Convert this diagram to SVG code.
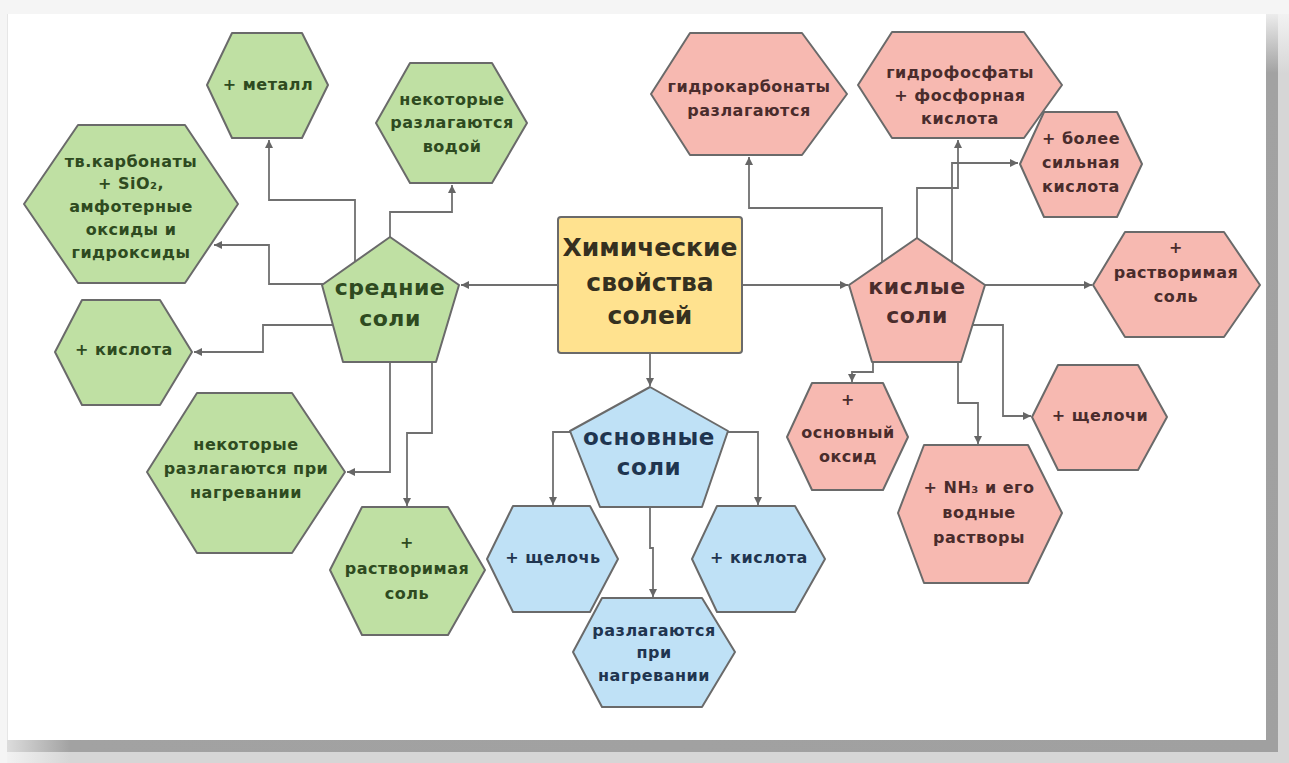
<svg xmlns="http://www.w3.org/2000/svg" width="1289" height="763" viewBox="0 0 1289 763">
<defs>
<linearGradient id="rs1" x1="0" y1="0" x2="0" y2="1"><stop offset="0" stop-color="#ececec"/><stop offset="0.08" stop-color="#a2a2a2"/><stop offset="1" stop-color="#a0a0a0"/></linearGradient>
<linearGradient id="rs2" x1="0" y1="0" x2="0" y2="1"><stop offset="0" stop-color="#f2f2f2"/><stop offset="0.08" stop-color="#d6d6d6"/><stop offset="1" stop-color="#d6d6d6"/></linearGradient>
<linearGradient id="bs1" x1="0" y1="0" x2="1" y2="0"><stop offset="0" stop-color="#dcdcdc"/><stop offset="0.05" stop-color="#a2a2a2"/><stop offset="1" stop-color="#a0a0a0"/></linearGradient>
<linearGradient id="bs2" x1="0" y1="0" x2="1" y2="0"><stop offset="0" stop-color="#f2f2f2"/><stop offset="0.05" stop-color="#d6d6d6"/><stop offset="1" stop-color="#d6d6d6"/></linearGradient>
<marker id="ah" viewBox="0 0 10 10" refX="10" refY="5" markerWidth="9" markerHeight="8" markerUnits="userSpaceOnUse" orient="auto"><path d="M0,0 L10,5 L0,10 Z" fill="#666"/></marker>
</defs>
<style>
.g{fill:#bfe0a3;stroke:#6a6a6a;stroke-width:2;stroke-linejoin:round}
.r{fill:#f7b9b1;stroke:#6a6a6a;stroke-width:2;stroke-linejoin:round}
.b{fill:#bfe1f6;stroke:#6a6a6a;stroke-width:2;stroke-linejoin:round}
.y{fill:#ffe28f;stroke:#6a6a6a;stroke-width:2}
text{font-family:"DejaVu Sans",Verdana,sans-serif;font-weight:bold;text-anchor:middle}
.tg{fill:#2e4a20;font-size:16px;letter-spacing:0.5px}
.tr{fill:#4a2c2c;font-size:16px;letter-spacing:0.5px}
.tb{fill:#1f3550;font-size:16px;letter-spacing:0.5px}
.big{font-size:22px;letter-spacing:0.5px}
.title{fill:#353020;font-size:25px}
.c{fill:none;stroke:#707070;stroke-width:1.8;marker-end:url(#ah)}
</style>
<rect x="0" y="0" width="1289" height="763" fill="#f5f5f5"/>
<rect x="1266" y="14" width="12" height="738" fill="url(#rs1)"/>
<rect x="1278" y="14" width="11" height="749" fill="url(#rs2)"/>
<rect x="7" y="740" width="1271" height="12" fill="url(#bs1)"/>
<rect x="7" y="752" width="1271" height="11" fill="url(#bs2)"/>
<rect x="7" y="14" width="1259" height="726" fill="#ffffff"/>
<line x1="7.5" y1="14" x2="7.5" y2="740" stroke="#e6e6e6" stroke-width="1"/>

<g id="connectors">
<path class="c" d="M558,285 H461"/>
<path class="c" d="M742,285 H848"/>
<path class="c" d="M650,353 V386"/>
<path class="c" d="M355,262 V200 H269 V140"/>
<path class="c" d="M324,284 H269 V245 H214"/>
<path class="c" d="M390,237 V212 H452 V185"/>
<path class="c" d="M333,325 H263 V352 H194"/>
<path class="c" d="M390,362 V472 H347"/>
<path class="c" d="M432,362 V433 H407 V506"/>
<path class="c" d="M570,432 H553 V505"/>
<path class="c" d="M728,432 H758 V505"/>
<path class="c" d="M650,507 V548 H653 V597"/>
<path class="c" d="M882,262 V208 H749 V157"/>
<path class="c" d="M917,238 V188 H958 V140"/>
<path class="c" d="M952,262 V163 H1018"/>
<path class="c" d="M985,285 H1092"/>
<path class="c" d="M973,325 H1003 V416 H1031"/>
<path class="c" d="M958,362 V403 H978 V444"/>
<path class="c" d="M873,362 V372 H852 V382"/>
</g>

<g id="center">
<rect class="y" x="558" y="217" width="184" height="136" rx="3"/>
<text class="title" x="650" y="256">Химические</text>
<text class="title" x="650" y="291">свойства</text>
<text class="title" x="650" y="324">солей</text>
</g>

<g id="srednie">
<polygon class="g" points="390,237 459,285 436,362 343,362 322,285"/>
<text class="tg big" x="390" y="295">средние</text>
<text class="tg big" x="390" y="326">соли</text>
</g>
<g id="kislye">
<polygon class="r" points="917,238 985,285 961,362 872,362 849,285"/>
<text class="tr big" x="917" y="294">кислые</text>
<text class="tr big" x="917" y="323">соли</text>
</g>
<g id="osnovnye">
<polygon class="b" points="650,387 728,431 702,507 600,507 570,431"/>
<text class="tb big" x="649" y="445" style="font-size:23px">основные</text>
<text class="tb big" x="649" y="475" style="font-size:23px">соли</text>
</g>

<g id="g-metall">
<polygon class="g" points="207,85 232,33 302,33 328,85 302,138 232,138"/>
<text class="tg" x="268" y="90">+ металл</text>
</g>
<g id="g-voda">
<polygon class="g" points="376,123 410,63 492,63 527,123 492,183 410,183"/>
<text class="tg" x="452" y="105">некоторые</text>
<text class="tg" x="452" y="128">разлагаются</text>
<text class="tg" x="452" y="152">водой</text>
</g>
<g id="g-karbonaty">
<polygon class="g" points="24,204 78,125 185,125 238,204 185,283 78,283"/>
<text class="tg" x="131" y="167">тв.карбонаты</text>
<text class="tg" x="131" y="189">+ SiO₂,</text>
<text class="tg" x="131" y="212">амфотерные</text>
<text class="tg" x="131" y="235">оксиды и</text>
<text class="tg" x="131" y="258">гидроксиды</text>
</g>
<g id="g-kislota">
<polygon class="g" points="55,352 82,300 160,300 192,352 160,405 82,405"/>
<text class="tg" x="124" y="355">+ кислота</text>
</g>
<g id="g-nagrev">
<polygon class="g" points="147,472 197,393 292,393 345,472 292,553 197,553"/>
<text class="tg" x="246" y="450">некоторые</text>
<text class="tg" x="246" y="474">разлагаются при</text>
<text class="tg" x="246" y="498">нагревании</text>
</g>
<g id="g-rastvor">
<polygon class="g" points="330,570 362,507 448,507 485,570 448,635 362,635"/>
<text class="tg" x="407" y="548">+</text>
<text class="tg" x="407" y="574">растворимая</text>
<text class="tg" x="407" y="599">соль</text>
</g>

<g id="b-shchelochi">
<polygon class="b" points="487,559 513,506 590,506 618,559 590,612 513,612"/>
<text class="tb" x="553" y="563">+ щелочь</text>
</g>
<g id="b-kislota">
<polygon class="b" points="692,559 717,506 795,506 825,559 795,612 717,612"/>
<text class="tb" x="759" y="563">+ кислота</text>
</g>
<g id="b-nagrev">
<polygon class="b" points="573,652 602,598 702,598 735,652 702,707 602,707"/>
<text class="tb" x="654" y="636">разлагаются</text>
<text class="tb" x="654" y="658">при</text>
<text class="tb" x="654" y="681">нагревании</text>
</g>

<g id="r-gidrokarb">
<polygon class="r" points="651,94 690,33 802,33 847,94 802,155 690,155"/>
<text class="tr" x="749" y="92">гидрокарбонаты</text>
<text class="tr" x="749" y="116">разлагаются</text>
</g>
<g id="r-gidrofosf">
<polygon class="r" points="858,85 892,32 1024,32 1062,85 1024,138 892,138"/>
<text class="tr" x="960" y="78">гидрофосфаты</text>
<text class="tr" x="960" y="101">+ фосфорная</text>
<text class="tr" x="960" y="124">кислота</text>
</g>
<g id="r-silnaya">
<polygon class="r" points="1020,164 1044,112 1117,112 1142,164 1117,217 1044,217"/>
<text class="tr" x="1081" y="144">+ более</text>
<text class="tr" x="1081" y="168">сильная</text>
<text class="tr" x="1081" y="192">кислота</text>
</g>
<g id="r-rastvor">
<polygon class="r" points="1093,285 1125,232 1224,232 1260,285 1224,337 1125,337"/>
<text class="tr" x="1176" y="253">+</text>
<text class="tr" x="1176" y="278">растворимая</text>
<text class="tr" x="1176" y="302">соль</text>
</g>
<g id="r-oksid">
<polygon class="r" points="787,437 812,383 883,383 908,437 883,490 812,490"/>
<text class="tr" x="848" y="405">+</text>
<text class="tr" x="848" y="438">основный</text>
<text class="tr" x="848" y="462">оксид</text>
</g>
<g id="r-shchelochi">
<polygon class="r" points="1032,417 1058,365 1138,365 1167,417 1138,470 1058,470"/>
<text class="tr" x="1100" y="421">+ щелочи</text>
</g>
<g id="r-nh3">
<polygon class="r" points="898,513 924,445 1028,445 1062,513 1028,583 924,583"/>
<text class="tr" x="979" y="493">+ NH₃ и его</text>
<text class="tr" x="979" y="518">водные</text>
<text class="tr" x="979" y="543">растворы</text>
</g>
</svg>
